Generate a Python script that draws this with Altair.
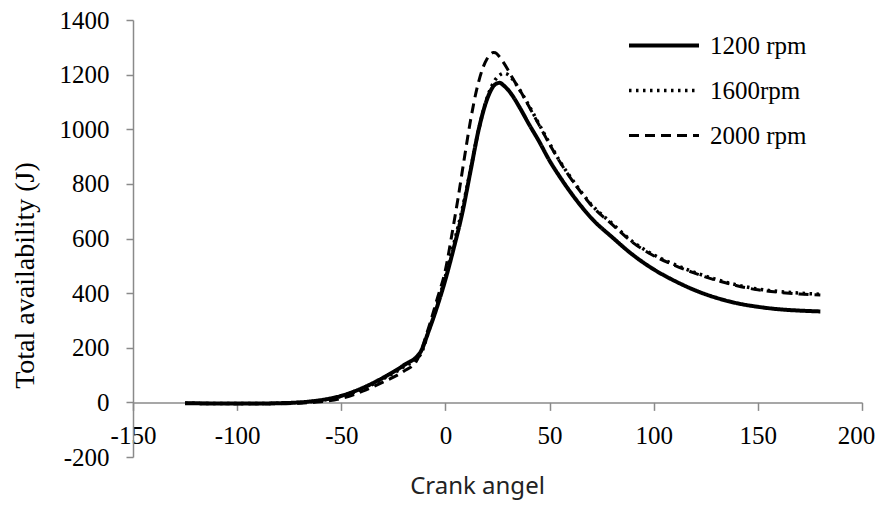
import altair as alt
import pandas as pd

series_names = ["1200 rpm", "1600rpm", "2000 rpm"]

x_1200 = [-125, -110, -100, -90, -80, -70, -60, -50, -40, -30, -20, -12, -8, -4, 0, 4, 8, 12, 16, 20,
          22, 24, 26, 28, 30, 32, 36, 40, 45, 50, 55, 60, 65, 70, 80, 90, 100, 110, 120, 130, 140,
          150, 160, 170, 180]
y_1200 = [-3, -4, -4, -4, -3, 0, 8, 24, 52, 90, 136, 184, 262, 350, 450, 565, 690, 845, 1000, 1110,
          1145, 1165, 1170, 1160, 1145, 1125, 1075, 1020, 955, 885, 825, 770, 720, 675, 605, 540, 487,
          445, 410, 383, 363, 350, 341, 336, 333]

x_1600 = [-125, -110, -100, -90, -80, -70, -60, -50, -40, -30, -20, -12, -8, -4, 0, 4, 8, 12, 16, 20,
          22, 24, 26, 28, 30, 32, 36, 40, 45, 50, 55, 60, 65, 70, 80, 90, 100, 110, 120, 130, 140,
          150, 160, 170, 180]
y_1600 = [-3, -4, -4, -4, -3, 0, 7, 22, 48, 86, 130, 175, 262, 358, 462, 580, 705, 850, 1000, 1115,
          1155, 1182, 1198, 1205, 1200, 1185, 1140, 1088, 1018, 948, 882, 825, 772, 725, 655, 588, 540,
          505, 475, 450, 430, 415, 406, 400, 396]

x_2000 = [-125, -110, -100, -90, -80, -70, -60, -50, -40, -30, -20, -14, -8, -4, 0, 3, 6, 9, 12, 15,
          18, 20, 22, 23, 24, 26, 28, 30, 32, 36, 40, 45, 50, 55, 60, 65, 70, 80, 90, 100, 110, 120,
          130, 140, 150, 160, 170, 180]
y_2000 = [-3, -4, -5, -5, -5, -3, 2, 14, 40, 74, 114, 150, 275, 378, 485, 610, 745, 890, 1030, 1145,
          1225, 1258, 1277, 1281, 1280, 1265, 1243, 1218, 1190, 1140, 1085, 1015, 945, 880, 822, 770,
          722, 652, 585, 537, 502, 472, 447, 427, 412, 403, 397, 393]

x_ticks = [-150, -100, -50, 0, 50, 100, 150, 200]
y_ticks = [-200, 0, 200, 400, 600, 800, 1000, 1200, 1400]

rows = []
for name, xs, ys in zip(series_names, [x_1200, x_1600, x_2000], [y_1200, y_1600, y_2000]):
    for xv, yv in zip(xs, ys):
        rows.append({"series": name, "angle": xv, "avail": yv})
df = pd.DataFrame(rows)

W, H = 729, 437
x_min, x_max = -150, 200
y_min, y_max = -200, 1400
# x axis crosses at y = 0: move it up from the bottom edge
x_axis_offset = -H * (0 - y_min) / (y_max - y_min)

axis_gray = "#8a8a8a"
plain_label = "'' + datum.value"

chart = alt.Chart(df).mark_line(interpolate="monotone", color="black").encode(
    x=alt.X(
        "angle:Q",
        scale=alt.Scale(domain=[x_min, x_max], nice=False, zero=False),
        axis=alt.Axis(
            values=x_ticks, title="Crank angel", offset=x_axis_offset, grid=False,
            labelExpr=plain_label,
            domainColor=axis_gray, domainWidth=1.5, tickColor=axis_gray, tickWidth=1.5, tickSize=8,
            labelFont="Liberation Serif", labelFontSize=25, labelColor="black", labelPadding=13,
            labelFlush=False, labelOverlap=False,
            labelOffset={"condition": {"test": f"datum.value == {x_max}", "value": -6}, "value": 0},
            titleFont="Noto Sans", titleFontSize=24, titleFontWeight="normal", titleColor="#222222",
            titleX=344, titleY=91, titleBaseline="alphabetic", titleAlign="center",
        ),
    ),
    y=alt.Y(
        "avail:Q",
        scale=alt.Scale(domain=[y_min, y_max], nice=False, zero=False),
        axis=alt.Axis(
            values=y_ticks, title="Total availability (J)", grid=False,
            labelExpr=plain_label,
            domainColor=axis_gray, domainWidth=1.5, tickColor=axis_gray, tickWidth=1.5, tickSize=7,
            labelFont="Liberation Serif", labelFontSize=25, labelColor="black", labelPadding=17,
            labelFlush=False, labelOverlap=False,
            titleFont="Liberation Serif", titleFontSize=28, titleFontWeight="normal", titleColor="black",
            titleX=-100, titleY=255, titleAngle=270, titleBaseline="alphabetic", titleAlign="center",
        ),
    ),
    strokeDash=alt.StrokeDash(
        "series:N",
        scale=alt.Scale(domain=series_names, range=[[1, 0], [2.5, 4.5], [10, 6]]),
        legend=alt.Legend(
            title=None, orient="none", legendX=494, legendY=13,
            symbolType="stroke", symbolSize=4900, symbolStrokeWidth=3, symbolStrokeColor="black",
            labelFont="Liberation Serif", labelFontSize=25, labelColor="black", labelOffset=9,
            rowPadding=19, padding=0, clipHeight=25, symbolOffset=0,
        ),
    ),
    strokeWidth=alt.StrokeWidth(
        "series:O",
        scale=alt.Scale(domain=series_names, range=[4, 3, 3]),
        legend=None,
    ),
).properties(
    width=W, height=H,
    autosize=alt.AutoSizeParams(type="none"),
    padding={"left": 125, "top": 12, "right": 13, "bottom": 43},
    background="white",
).configure_view(stroke=None)

chart.save("out.html", embed_options={"renderer": "svg", "actions": False})
